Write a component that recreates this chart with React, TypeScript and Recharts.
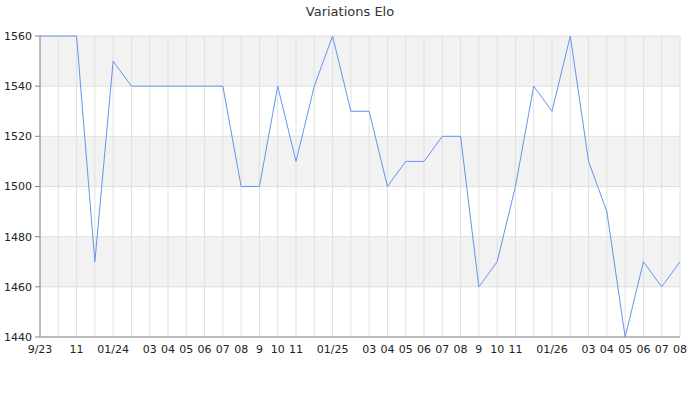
import React from "react";
import { LineChart, Line, XAxis, YAxis, CartesianGrid } from "recharts";

const months = [
  "2023-09","2023-10","2023-11","2023-12","2024-01","2024-02","2024-03","2024-04","2024-05","2024-06","2024-07","2024-08",
  "2024-09","2024-10","2024-11","2024-12","2025-01","2025-02","2025-03","2025-04","2025-05","2025-06","2025-07","2025-08",
  "2025-09","2025-10","2025-11","2025-12","2026-01","2026-02","2026-03","2026-04","2026-05","2026-06","2026-07","2026-08",
];
const tickLabels = [
  "9/23","","11","","01/24","","03","04","05","06","07","08",
  "9","10","11","","01/25","","03","04","05","06","07","08",
  "9","10","11","","01/26","","03","04","05","06","07","08",
];
const elo = [
  1560,1560,1560,1470,1550,1540,1540,1540,1540,1540,1540,1500,
  1500,1540,1510,1540,1560,1530,1530,1500,1510,1510,1520,1520,
  1460,1470,1500,1540,1530,1560,1510,1490,1440,1470,1460,1470,
];
const majorTicks = [1440, 1460, 1480, 1500, 1520, 1540, 1560];
const minorTicks = [1450, 1470, 1490, 1510, 1530, 1550];

const data = months.map((m, i) => ({ m, label: tickLabels[i], elo: elo[i] }));
const font = "'DejaVu Sans', sans-serif";

export default function App() {
  return (
    <div style={{ position: "absolute", left: 0, top: 0, width: 700, height: 400, background: "#fff", fontFamily: font }}>
      <div style={{ position: "absolute", left: 0, top: 4, width: 700, textAlign: "center", fontSize: 13, color: "#333" }}>
        Variations Elo
      </div>
      <LineChart width={700} height={400} data={data} margin={{ top: 36, right: 20, bottom: 33, left: 0 }}>
        <CartesianGrid
          stroke="#e0e0e0"
          horizontalFill={["#f2f2f2", "#ffffff"]}
          fillOpacity={1}
        />
        <XAxis
          dataKey="m"
          interval={0}
          height={30}
          tickFormatter={(v: string, i: number) => tickLabels[months.indexOf(v)] ?? ""}
          tick={{ fontSize: 11, fill: "#222", fontFamily: font }}
          tickLine={false}
          axisLine={{ stroke: "#888" }}
        />
        <YAxis
          domain={[1440, 1560]}
          ticks={majorTicks}
          width={40}
          tick={{ fontSize: 11, fill: "#222", fontFamily: font }}
          tickLine={{ stroke: "#888" }}
          tickSize={5}
          tickMargin={3}
          axisLine={{ stroke: "#888" }}
        />
        <YAxis
          yAxisId="minor"
          domain={[1440, 1560]}
          ticks={minorTicks}
          width={0}
          tick={false}
          tickLine={{ stroke: "#888" }}
          tickSize={3}
          axisLine={false}
        />
        <Line
          type="linear"
          dataKey="elo"
          stroke="#6495ed"
          strokeWidth={1}
          dot={false}
          isAnimationActive={false}
        />
      </LineChart>
    </div>
  );
}
